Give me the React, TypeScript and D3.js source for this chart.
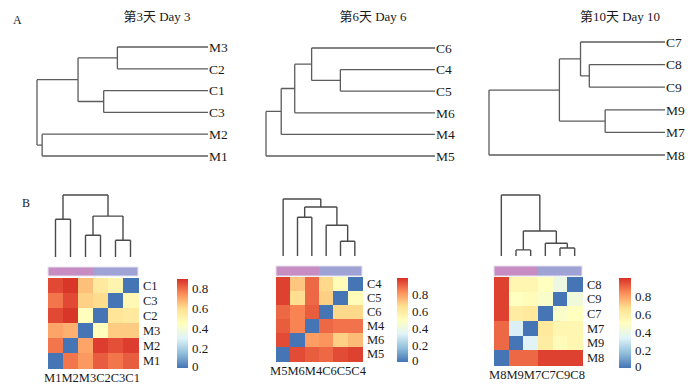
import React from 'react';
import * as d3 from 'd3';

// panel A: hierarchical clustering per day
const dayTitles = ['第3天 Day 3', '第6天 Day 6', '第10天 Day 10'];

const day3Leaves = ['M3', 'C2', 'C1', 'C3', 'M2', 'M1'];
const day6Leaves = ['C6', 'C4', 'C5', 'M6', 'M4', 'M5'];
const day10Leaves = ['C7', 'C8', 'C9', 'M9', 'M7', 'M8'];

// merges: [left, right, height], "#i" points to the i-th merge
type Merge = [string, string, number];
const day3Merges: Merge[] = [['M3', 'C2', 0.53], ['C1', 'C3', 0.61], ['#0', '#1', 0.76], ['M2', 'M1', 0.97], ['#2', '#3', 1.0]];
const day6Merges: Merge[] = [['C4', 'C5', 0.56], ['C6', '#0', 0.73], ['#1', 'M6', 0.83], ['#2', 'M4', 0.91], ['#3', 'M5', 1.0]];
const day10Merges: Merge[] = [['C8', 'C9', 0.43], ['C7', '#0', 0.48], ['M9', 'M7', 0.34], ['#1', '#2', 0.6], ['#3', 'M8', 1.0]];

// panel B: distance heatmaps (rows = columns reversed)
const hm1Cols = ['M1', 'M2', 'M3', 'C2', 'C3', 'C1'];
const hm2Cols = ['M5', 'M6', 'M4', 'C6', 'C5', 'C4'];
const hm3Cols = ['M8', 'M9', 'M7', 'C7', 'C9', 'C8'];

const hm1Merges: Merge[] = [['M1', 'M2', 0.61], ['M3', 'C2', 0.35], ['C3', 'C1', 0.27], ['#1', '#2', 0.66], ['#0', '#3', 1.0]];
const hm2Merges: Merge[] = [['M6', 'M4', 0.68], ['C5', 'C4', 0.26], ['C6', '#1', 0.54], ['#0', '#2', 0.86], ['M5', '#3', 1.0]];
const hm3Merges: Merge[] = [['M9', 'M7', 0.1], ['C9', 'C8', 0.13], ['C7', '#1', 0.21], ['#0', '#2', 0.41], ['M8', '#3', 1.0]];

const hm1Values = [
  [0.85, 0.88, 0.65, 0.55, 0.5, 0],
  [0.78, 0.85, 0.62, 0.6, 0, 0.48],
  [0.85, 0.88, 0.45, 0, 0.57, 0.55],
  [0.7, 0.68, 0, 0.45, 0.63, 0.63],
  [0.78, 0, 0.7, 0.87, 0.84, 0.87],
  [0, 0.78, 0.72, 0.82, 0.78, 0.82],
];
const hm2Values = [
  [0.97, 0.72, 0.9, 0.68, 0.52, 0],
  [0.97, 0.67, 0.9, 0.7, 0, 0.52],
  [0.9, 0.85, 0.92, 0, 0.68, 0.68],
  [0.92, 0.85, 0, 0.9, 0.88, 0.88],
  [0.95, 0, 0.8, 0.82, 0.7, 0.74],
  [0, 0.95, 0.92, 0.9, 0.95, 0.97],
];
const hm3Values = [
  [0.97, 0.55, 0.55, 0.5, 0.4, 0],
  [0.97, 0.5, 0.52, 0.47, 0, 0.42],
  [0.97, 0.6, 0.62, 0, 0.47, 0.5],
  [0.9, 0.32, 0, 0.62, 0.55, 0.55],
  [0.9, 0, 0.34, 0.6, 0.52, 0.55],
  [0, 0.9, 0.9, 0.97, 0.97, 0.97],
];
const colorMax = [0.89, 1.0, 1.0];
const legendTicks = [0, 0.2, 0.4, 0.6, 0.8];

const palette = ['#4575b4', '#91bfdb', '#e0f3f8', '#ffffbf', '#fee090', '#fc8d59', '#d73027'];
const annColors: Record<string, string> = { M: '#c78dc2', C: '#9ea2d5' };

const FONT = '"Liberation Serif", Tinos, "Times New Roman", "DejaVu Serif", serif';
const TITLE_FONT = '"Liberation Serif", Tinos, "Times New Roman", "DejaVu Serif", "Noto Sans CJK SC", serif';
const LINE = '#5c5c5c';

interface TNode { name: string; h: number; children?: TNode[] }

function buildTree(merges: Merge[]): TNode {
  const made: TNode[] = [];
  const get = (k: string): TNode => (k.startsWith('#') ? made[+k.slice(1)] : { name: k, h: 0 });
  merges.forEach(([a, b, h], i) => made.push({ name: '#' + i, h, children: [get(a), get(b)] }));
  return made[made.length - 1];
}

// returns list of segments in (height, position) space
function dendroSegments(merges: Merge[], leafPos: (n: string) => number) {
  const root: any = d3.hierarchy(buildTree(merges));
  root.eachAfter((n: any) => {
    n.p = n.children ? d3.mean(n.children, (c: any) => c.p) : leafPos(n.data.name);
  });
  const segs: [number, number, number, number][] = [];
  root.each((n: any) => {
    if (!n.children) return;
    const ps = n.children.map((c: any) => c.p);
    segs.push([n.data.h, d3.min(ps) as number, n.data.h, d3.max(ps) as number]);
    n.children.forEach((c: any) => segs.push([n.data.h, c.p, c.data.h, c.p]));
  });
  return segs;
}

const topPanels = [
  { leaves: day3Leaves, merges: day3Merges, leafX: 208, rootX: 37, y0: 47, y1: 156, titleX: 157 },
  { leaves: day6Leaves, merges: day6Merges, leafX: 435, rootX: 266, y0: 48, y1: 156, titleX: 373 },
  { leaves: day10Leaves, merges: day10Merges, leafX: 665, rootX: 489, y0: 42, y1: 155, titleX: 620 },
];

const heatPanels = [
  { cols: hm1Cols, merges: hm1Merges, values: hm1Values, x0: 48, x1: 138, y0: 278, y1: 368, dTop: 195, dBot: 257, annTop: 267, annBot: 276, cbX: 177, cbW: 11, cbTop: 279, cbBot: 368 },
  { cols: hm2Cols, merges: hm2Merges, values: hm2Values, x0: 276, x1: 362, y0: 277, y1: 361, dTop: 199, dBot: 256, annTop: 266, annBot: 276, cbX: 397, cbW: 11, cbTop: 278, cbBot: 362 },
  { cols: hm3Cols, merges: hm3Merges, values: hm3Values, x0: 494, x1: 582, y0: 277, y1: 365, dTop: 195, dBot: 256, annTop: 266, annBot: 276, cbX: 619, cbW: 12, cbTop: 278, cbBot: 368 },
];

function TopDendro({ panel, title }: { panel: any; title: string }) {
  const y = d3.scalePoint<string>().domain(panel.leaves).range([panel.y0, panel.y1]);
  const maxH = panel.merges[panel.merges.length - 1][2];
  const x = d3.scaleLinear().domain([0, maxH]).range([panel.leafX, panel.rootX]);
  const segs = dendroSegments(panel.merges, (n) => y(n) as number);
  const path = segs.map(([h1, p1, h2, p2]) => `M${x(h1)},${p1}L${x(h2)},${p2}`).join('');
  return (
    <g>
      <text x={panel.titleX} y={21} textAnchor="middle" fontSize={13} fontFamily={TITLE_FONT}>{title}</text>
      <path d={path} fill="none" stroke={LINE} strokeWidth={1.3} />
      {panel.leaves.map((l: string) => (
        <text key={l} x={panel.leafX + 1} y={y(l)} dy="0.35em" fontSize={13.5}>{l}</text>
      ))}
    </g>
  );
}

function HeatPanel({ panel, idx }: { panel: any; idx: number }) {
  const rows = [...panel.cols].reverse();
  const x = d3.scaleBand<string>().domain(panel.cols).range([panel.x0, panel.x1]);
  const y = d3.scaleBand<string>().domain(rows).range([panel.y0, panel.y1]);
  const vmax = colorMax[idx];
  const color = d3
    .scaleLinear<string>()
    .domain(palette.map((_, i) => (i / (palette.length - 1)) * vmax))
    .range(palette)
    .interpolate(d3.interpolateRgb);
  const maxH = panel.merges[panel.merges.length - 1][2];
  const hy = d3.scaleLinear().domain([0, maxH]).range([panel.dBot, panel.dTop]);
  const segs = dendroSegments(panel.merges, (n) => (x(n) as number) + x.bandwidth() / 2);
  const path = segs.map(([h1, p1, h2, p2]) => `M${p1},${hy(h1)}L${p2},${hy(h2)}`).join('');
  const cb = d3.scaleLinear().domain([0, vmax]).range([panel.cbBot, panel.cbTop]);
  const gid = `cbgrad${idx}`;
  return (
    <g>
      <defs>
        <linearGradient id={gid} x1="0" y1="1" x2="0" y2="0">
          {palette.map((c, i) => (
            <stop key={i} offset={`${(i / (palette.length - 1)) * 100}%`} stopColor={c} />
          ))}
        </linearGradient>
      </defs>
      <path d={path} fill="none" stroke="#4a4a4a" strokeWidth={1.4} />
      {panel.cols.map((c: string) => (
        <rect key={'a' + c} x={x(c)} y={panel.annTop} width={x.bandwidth()} height={panel.annBot - panel.annTop}
          fill={annColors[c[0]]} shapeRendering="crispEdges" />
      ))}
      <rect x={panel.x0} y={panel.annTop} width={panel.x1 - panel.x0} height={panel.annBot - panel.annTop}
        fill="none" stroke="#e4e4ee" strokeWidth={1} />
      {rows.map((r: string, i: number) =>
        panel.cols.map((c: string, j: number) => (
          <rect key={r + c} x={x(c)} y={y(r)} width={x.bandwidth() + 0.5} height={y.bandwidth() + 0.5}
            fill={color(panel.values[i][j])} shapeRendering="crispEdges" />
        ))
      )}
      {rows.map((r: string) => (
        <text key={'r' + r} x={panel.x1 + 5} y={(y(r) as number) + y.bandwidth() / 2} dy="0.35em" fontSize={12.5}>{r}</text>
      ))}
      {/* column labels run together in the original, so set them as one line */}
      <text x={(panel.x0 + panel.x1) / 2 - 1} y={panel.y1 + 14} textAnchor="middle" fontSize={12.5}>
        {panel.cols.join('')}
      </text>
      <rect x={panel.cbX} y={panel.cbTop} width={panel.cbW} height={panel.cbBot - panel.cbTop} fill={`url(#${gid})`} />
      {legendTicks.map((t) => (
        <text key={'t' + t} x={panel.cbX + panel.cbW + 4} y={cb(t) - (t === 0 ? 2 : 0)} dy="0.35em" fontSize={13}>{String(t)}</text>
      ))}
    </g>
  );
}

export default function App() {
  return (
    <svg width={700} height={386} style={{ position: 'absolute', left: 0, top: 0, background: '#fff' }}
      fontFamily={FONT} fill="#1a1a1a">
      <rect width={700} height={386} fill="#fff" />
      <text x={13} y={24} fontSize={12}>A</text>
      <text x={22} y={207} fontSize={12}>B</text>
      {topPanels.map((p, i) => (
        <TopDendro key={i} panel={p} title={dayTitles[i]} />
      ))}
      {heatPanels.map((p, i) => (
        <HeatPanel key={i} panel={p} idx={i} />
      ))}
    </svg>
  );
}
